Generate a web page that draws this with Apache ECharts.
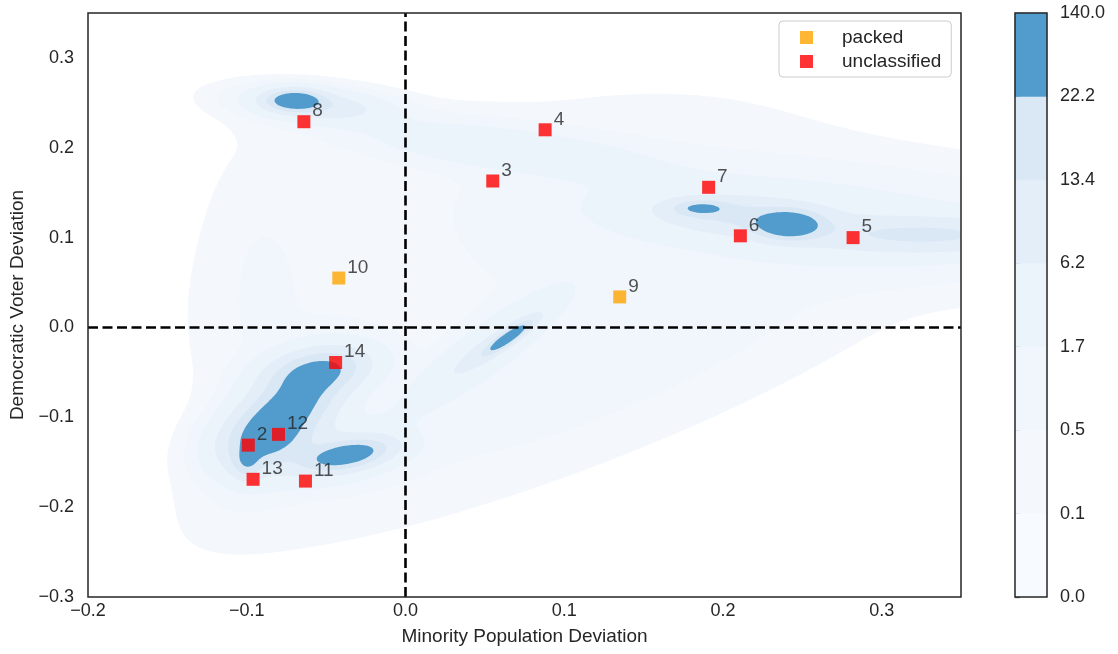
<!DOCTYPE html>
<html>
<head>
<meta charset="utf-8">
<script src="https://cdn.jsdelivr.net/npm/echarts@6/dist/echarts.min.js"></script>
<style>
  html, body { margin: 0; padding: 0; background: #fff; }
  #chart { width: 1118px; height: 654px; }
</style>
</head>
<body>
<div id="chart"></div>
<script>
// labelled districts
const pointIds = [2, 3, 4, 5, 6, 7, 8, 9, 10, 11, 12, 13, 14];
const pointX = [-0.099, 0.055, 0.088, 0.282, 0.211, 0.191, -0.064, 0.135, -0.042, -0.063, -0.080, -0.096, -0.044];
const pointY = [-0.131, 0.163, 0.220, 0.100, 0.102, 0.156, 0.229, 0.034, 0.055, -0.171, -0.119, -0.169, -0.039];
const pointClass = ['unclassified', 'unclassified', 'unclassified', 'unclassified', 'unclassified', 'unclassified',
  'unclassified', 'packed', 'packed', 'unclassified', 'unclassified', 'unclassified', 'unclassified'];
const classNames = ['packed', 'unclassified'];
const classColors = ['#ffa500', '#ff0000'];

// colorbar levels
const levelValues = [0.0, 0.1, 0.5, 1.7, 6.2, 13.4, 22.2, 140.0];
const levelColors = ['#f7fbff', '#f4f8fd', '#f0f6fc', '#ebf3fb', '#e4eef8', '#dae8f5', '#519ccc'];

// density bumps (centre, spread, correlation, weight)
const bumpX   = [-0.075, -0.055, -0.073, -0.090, -0.100, -0.036, -0.045, -0.070, -0.055, 0.060, -0.090, 0.2416, 0.186, 0.210, 0.330, 0.250, 0.065, 0.050, 0.080, 0.120];
const bumpY   = [-0.100, -0.048, -0.088, -0.125, -0.152, -0.142, -0.140, 0.253, 0.247, 0.200, 0.040, 0.114, 0.133, 0.125, 0.103, 0.120, -0.011, -0.025, 0.080, -0.050];
const bumpSx  = [0.022, 0.020, 0.020, 0.017, 0.006, 0.017, 0.025, 0.011, 0.025, 0.060, 0.020, 0.013, 0.011, 0.035, 0.050, 0.090, 0.0095, 0.030, 0.110, 0.121];
const bumpSy  = [0.041, 0.016, 0.023, 0.020, 0.011, 0.011, 0.020, 0.0075, 0.011, 0.020, 0.090, 0.010, 0.0055, 0.014, 0.013, 0.035, 0.012, 0.040, 0.100, 0.097];
const bumpRho = [0.5, 0.3, 0.5, 0.3, 0, 0.45, 0.3, 0, -0.3, -0.6, 0, 0, 0, -0.2, 0, -0.3, 0.9, 0.9, 0.4, 0.86];
const bumpW   = [9, 22, 20, 20, 12, 26, 8, 30, 12, 4, 0.5, 30, 16, 12, 13, 3.5, 32, 7, 0.5, 0.8];

const X0 = -0.2, X1 = 0.35, Y0 = -0.3, Y1 = 0.35, STEP = 0.002;
const nx = Math.round((X1 - X0) / STEP), ny = Math.round((Y1 - Y0) / STEP);
const dens = new Float64Array((nx + 1) * (ny + 1));
for (let j = 0; j <= ny; j++) {
  const y = Y0 + j * STEP;
  for (let i = 0; i <= nx; i++) {
    const x = X0 + i * STEP;
    let s = 0;
    for (let k = 0; k < bumpW.length; k++) {
      const u = (x - bumpX[k]) / bumpSx[k], v = (y - bumpY[k]) / bumpSy[k], r = bumpRho[k];
      const q = (u * u - 2 * r * u * v + v * v) / (1 - r * r);
      if (q < 40) s += bumpW[k] * Math.exp(-0.5 * q);
    }
    dens[j * (nx + 1) + i] = s;
  }
}
const val = (i, j) => dens[j * (nx + 1) + i];

function levelPath(level, api) {
  const px = [], py = [];
  for (let i = 0; i <= nx; i++) px.push(api.coord([X0 + i * STEP, Y0])[0]);
  for (let j = 0; j <= ny; j++) py.push(api.coord([X0, Y0 + j * STEP])[1]);
  const d = [];
  const f = n => n.toFixed(2);
  for (let j = 0; j < ny; j++) {
    let run = -1;
    for (let i = 0; i <= nx; i++) {
      const full = i < nx && val(i, j) >= level && val(i + 1, j) >= level &&
        val(i + 1, j + 1) >= level && val(i, j + 1) >= level;
      if (full) { if (run < 0) run = i; continue; }
      if (run >= 0) {
        d.push('M' + f(px[run]) + ' ' + f(py[j]) + 'L' + f(px[i]) + ' ' + f(py[j]) +
          'L' + f(px[i]) + ' ' + f(py[j + 1]) + 'L' + f(px[run]) + ' ' + f(py[j + 1]) + 'Z');
        run = -1;
      }
      if (i === nx) break;
      const cs = [[i, j], [i + 1, j], [i + 1, j + 1], [i, j + 1]];
      const vs = cs.map(c => val(c[0], c[1]));
      if (vs.every(v => v < level)) continue;
      const pts = [];
      for (let c = 0; c < 4; c++) {
        const a = cs[c], b = cs[(c + 1) % 4], va = vs[c], vb = vs[(c + 1) % 4];
        if (va >= level) pts.push([px[a[0]], py[a[1]]]);
        if ((va >= level) !== (vb >= level)) {
          const t = (level - va) / (vb - va);
          pts.push([px[a[0]] + t * (px[b[0]] - px[a[0]]), py[a[1]] + t * (py[b[1]] - py[a[1]])]);
        }
      }
      d.push('M' + pts.map(p => f(p[0]) + ' ' + f(p[1])).join('L') + 'Z');
    }
  }
  return d.join('');
}

const textColor = '#262626';
const fontFamily = '"Liberation Sans", Arial, sans-serif';
const tickFmt = v => {
  if (Math.abs(v * 10 - Math.round(v * 10)) > 1e-6) return '';
  return (v < -1e-9 ? '\u2212' : '') + Math.abs(v).toFixed(1);
};

const scatterSeries = classNames.map((name, c) => ({
  name: name,
  type: 'scatter',
  xAxisIndex: 0,
  yAxisIndex: 0,
  z: 6,
  symbol: 'rect',
  symbolSize: 13,
  itemStyle: { color: classColors[c] },
  label: {
    show: true,
    position: [15, -4],
    align: 'left',
    verticalAlign: 'middle',
    fontSize: 19,
    fontFamily: fontFamily,
    color: textColor,
    formatter: p => String(p.value[2])
  },
  data: pointIds.map((id, k) => [pointX[k], pointY[k], id]).filter((_, k) => pointClass[k] === name)
}));

const chart = echarts.init(document.getElementById('chart'), null, { renderer: 'canvas' });
chart.setOption({
  animation: false,
  backgroundColor: '#fff',
  textStyle: { fontFamily: fontFamily },
  grid: [
    { left: 88, right: 157, top: 13, bottom: 57, show: true, z: 10, backgroundColor: 'transparent', borderColor: textColor, borderWidth: 1.5 },
    { left: 1015, width: 32, top: 13, bottom: 57, show: true, z: 10, backgroundColor: 'transparent', borderColor: textColor, borderWidth: 1.5 }
  ],
  legend: {
    data: classNames,
    orient: 'vertical',
    left: 779,
    top: 21,
    padding: [7, 10, 6, 21],
    itemGap: 5,
    itemWidth: 13,
    itemHeight: 13,
    icon: 'rect',
    borderColor: '#cccccc',
    borderWidth: 1,
    borderRadius: 4,
    backgroundColor: 'rgba(255,255,255,0.8)',
    textStyle: { fontSize: 19, color: textColor, padding: [0, 0, 0, 24] }
  },
  xAxis: [
    {
      gridIndex: 0, type: 'value', min: X0, max: X1, interval: 0.1,
      name: 'Minority Population Deviation', nameLocation: 'middle', nameGap: 30,
      nameTextStyle: { fontSize: 19, color: textColor },
      axisLine: { show: false }, axisTick: { show: false }, splitLine: { show: false },
      axisLabel: { fontSize: 18, color: textColor, margin: 5, formatter: tickFmt }
    },
    { gridIndex: 1, type: 'value', min: 0, max: 1, show: false }
  ],
  yAxis: [
    {
      gridIndex: 0, type: 'value', min: Y0, max: Y1, interval: 0.1,
      name: 'Democratic Voter Deviation', nameLocation: 'middle', nameGap: 61,
      nameTextStyle: { fontSize: 19, color: textColor },
      axisLine: { show: false }, axisTick: { show: false }, splitLine: { show: false },
      axisLabel: { fontSize: 18, color: textColor, margin: 14, formatter: tickFmt }
    },
    {
      gridIndex: 1, type: 'value', min: 0, max: 7, interval: 1, position: 'right',
      axisLine: { show: false }, splitLine: { show: false },
      axisTick: { show: true, length: 5, lineStyle: { color: textColor, width: 1.2 } },
      axisLabel: { fontSize: 18, color: textColor, margin: 13, formatter: v => levelValues[v].toFixed(1) }
    }
  ],
  series: [
    {
      name: 'density',
      type: 'custom',
      xAxisIndex: 0,
      yAxisIndex: 0,
      z: 1,
      silent: true,
      encode: { x: 0, y: 1 },
      data: [1, 2, 3, 4, 5, 6].map(k => [X0, Y0, k]),
      renderItem: (params, api) => {
        const k = api.value(2);
        return {
          type: 'path',
          shape: { pathData: levelPath(levelValues[k], api) },
          style: { fill: levelColors[k], stroke: null }
        };
      },
      markLine: {
        silent: true,
        symbol: 'none',
        label: { show: false },
        lineStyle: { color: '#000', width: 2.6, type: [10, 4.5] },
        data: [{ xAxis: 0 }, { yAxis: 0 }]
      }
    },
    {
      name: 'colorbar',
      type: 'custom',
      xAxisIndex: 1,
      yAxisIndex: 1,
      z: 1,
      silent: true,
      encode: { x: 0, y: 1 },
      data: levelColors.map((c, i) => [0, i, i]),
      renderItem: (params, api) => {
        const i = api.value(2);
        const a = api.coord([0, i]), b = api.coord([1, i + 1]);
        return {
          type: 'rect',
          shape: { x: a[0], y: b[1], width: b[0] - a[0], height: a[1] - b[1] },
          style: { fill: levelColors[i], stroke: levelColors[i], lineWidth: 0.5 }
        };
      }
    }
  ].concat(scatterSeries)
});
</script>
</body>
</html>
